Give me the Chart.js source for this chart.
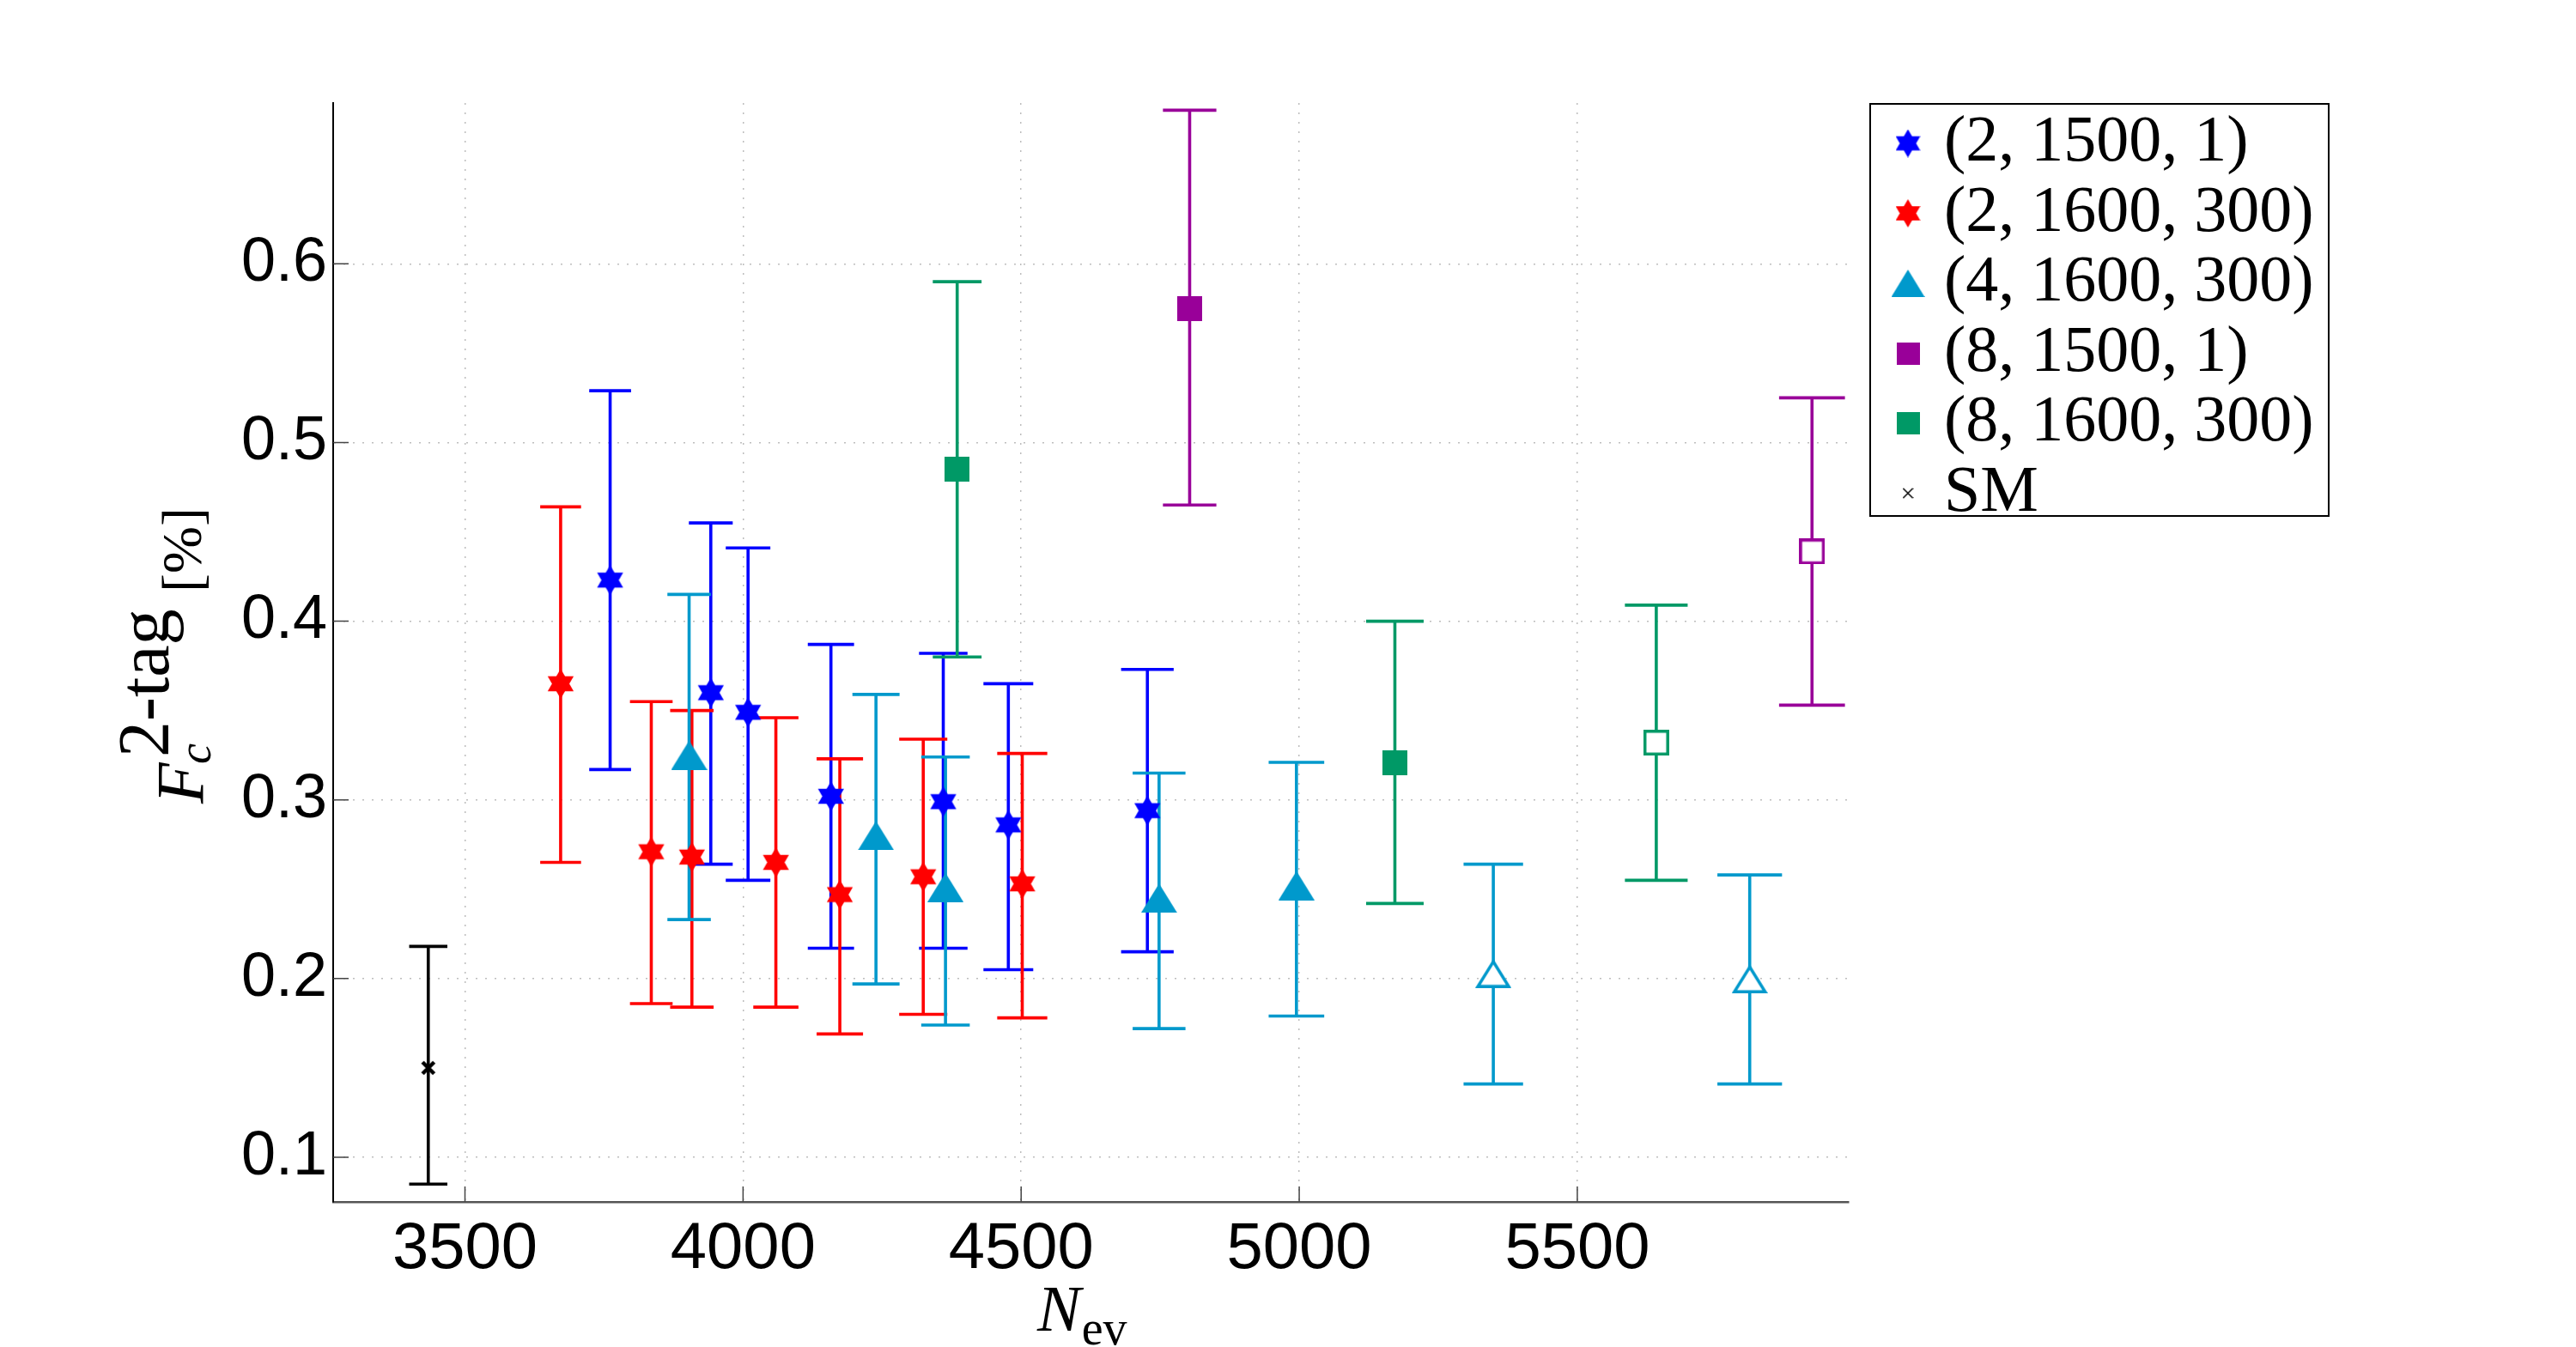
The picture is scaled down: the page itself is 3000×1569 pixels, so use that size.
<!DOCTYPE html>
<html>
<head>
<meta charset="utf-8">
<title>F_c 2-tag vs N_ev</title>
<script src="https://cdn.jsdelivr.net/npm/chart.js@4/dist/chart.umd.min.js"></script>
<style>
  html, body { margin: 0; padding: 0; background: #fff; }
  #wrap { width: 3000px; height: 1569px; }
</style>
</head>
<body>
<div id="wrap"><canvas id="chart" width="3000" height="1569"></canvas></div>
<script>
// ---- data ---------------------------------------------------------------

const xTicks = [3500, 4000, 4500, 5000, 5500];
const yTicks = [0.1, 0.2, 0.3, 0.4, 0.5, 0.6];

// (2, 1500, 1)
const s1X  = [3761, 3942, 4009, 4158, 4360, 4477, 4727];
const s1Y  = [0.423, 0.360, 0.349, 0.302, 0.299, 0.286, 0.294];
const s1Lo = [0.317, 0.264, 0.255, 0.217, 0.217, 0.205, 0.215];
const s1Hi = [0.529, 0.455, 0.441, 0.387, 0.382, 0.365, 0.373];

// (2, 1600, 300)
const s2X  = [3672, 3835, 3908, 4059, 4174, 4324, 4502];
const s2Y  = [0.365, 0.271, 0.268, 0.265, 0.247, 0.257, 0.253];
const s2Lo = [0.265, 0.186, 0.184, 0.184, 0.169, 0.180, 0.178];
const s2Hi = [0.464, 0.355, 0.350, 0.346, 0.323, 0.334, 0.326];

// (4, 1600, 300) filled / open markers
const s3X  = [3903, 4239, 4364, 4748, 4995];
const s3Y  = [0.325, 0.280, 0.251, 0.245, 0.252];
const s3Lo = [0.233, 0.197, 0.174, 0.172, 0.179];
const s3Hi = [0.415, 0.359, 0.324, 0.315, 0.321];
const s3oX  = [5349, 5810];
const s3oY  = [0.203, 0.200];
const s3oLo = [0.141, 0.141];
const s3oHi = [0.264, 0.258];

// (8, 1500, 1)
const s4X  = [4803];
const s4Y  = [0.575];
const s4Lo = [0.465];
const s4Hi = [0.686];
const s4oX  = [5922];
const s4oY  = [0.439];
const s4oLo = [0.353];
const s4oHi = [0.525];

// (8, 1600, 300)
const s5X  = [4385, 5172];
const s5Y  = [0.485, 0.321];
const s5Lo = [0.380, 0.242];
const s5Hi = [0.590, 0.400];
const s5oX  = [5642];
const s5oY  = [0.332];
const s5oLo = [0.255];
const s5oHi = [0.409];

// SM
const smX  = [3434];
const smY  = [0.150];
const smLo = [0.085];
const smHi = [0.218];

// ---- colours ------------------------------------------------------------
const BLUE   = '#0000ff';
const RED    = '#ff0000';
const CYAN   = '#0099cc';
const PURPLE = '#990099';
const GREEN  = '#009966';
const BLACK  = '#000000';

// ---- marker images (canvas point styles) --------------------------------
function makeMarker(type, color, w, h, open) {
  const c = document.createElement('canvas');
  c.width = Math.ceil(w);
  c.height = Math.ceil(h);
  const g = c.getContext('2d');
  const cx = c.width / 2, cy = c.height / 2;
  const lw = 3.5;
  g.fillStyle = open ? '#fff' : color;
  g.strokeStyle = color;
  g.lineWidth = lw;
  if (type === 'hex') {
    // two triangles filled one after the other (a single path leaves a hole)
    const R = h / 2, s = R * Math.sin(Math.PI / 3);
    g.beginPath();
    g.moveTo(cx, cy - R); g.lineTo(cx + s, cy + R / 2); g.lineTo(cx - s, cy + R / 2); g.closePath();
    g.fill();
    g.beginPath();
    g.moveTo(cx, cy + R); g.lineTo(cx + s, cy - R / 2); g.lineTo(cx - s, cy - R / 2); g.closePath();
    g.fill();
  } else if (type === 'tri') {
    const p = open ? lw : 0;
    g.beginPath();
    g.moveTo(cx, p);
    g.lineTo(w - p * 0.9, h - p / 2);
    g.lineTo(p * 0.9, h - p / 2);
    g.closePath();
    g.fill();
    if (open) g.stroke();
  } else if (type === 'sq') {
    g.fillRect(0, 0, w, h);
    if (open) g.strokeRect(lw / 2, lw / 2, w - lw, h - lw);
  } else if (type === 'x') {
    g.lineWidth = w > 14 ? 4.5 : 1.5;
    const d = w / 2 - g.lineWidth / 2;
    g.beginPath();
    g.moveTo(cx - d, cy - d); g.lineTo(cx + d, cy + d);
    g.moveTo(cx + d, cy - d); g.lineTo(cx - d, cy + d);
    g.stroke();
  }
  return c;
}

function pts(xs, ys) { return xs.map((x, i) => ({ x: x, y: ys[i] })); }

function series(label, xs, ys, lo, hi, color, marker, legendMarker) {
  return {
    label: label,
    data: pts(xs, ys),
    lo: lo,
    hi: hi,
    barColor: color,
    pointStyle: marker,
    legendMarker: legendMarker,
    pointRadius: 10,
    showLine: false
  };
}

const datasets = [
  series('(2, 1500, 1)', s1X, s1Y, s1Lo, s1Hi, BLUE,
    makeMarker('hex', BLUE, 32, 35), makeMarker('hex', BLUE, 29, 33)),
  series('(2, 1600, 300)', s2X, s2Y, s2Lo, s2Hi, RED,
    makeMarker('hex', RED, 32, 35), makeMarker('hex', RED, 29, 33)),
  series('(4, 1600, 300)', s3X, s3Y, s3Lo, s3Hi, CYAN,
    makeMarker('tri', CYAN, 42, 34), makeMarker('tri', CYAN, 39, 32)),
  series('', s3oX, s3oY, s3oLo, s3oHi, CYAN,
    makeMarker('tri', CYAN, 42, 34, true), null),
  series('(8, 1500, 1)', s4X, s4Y, s4Lo, s4Hi, PURPLE,
    makeMarker('sq', PURPLE, 29, 29), makeMarker('sq', PURPLE, 27, 26)),
  series('', s4oX, s4oY, s4oLo, s4oHi, PURPLE,
    makeMarker('sq', PURPLE, 30, 30, true), null),
  series('(8, 1600, 300)', s5X, s5Y, s5Lo, s5Hi, GREEN,
    makeMarker('sq', GREEN, 29, 29), makeMarker('sq', GREEN, 27, 26)),
  series('', s5oX, s5oY, s5oLo, s5oHi, GREEN,
    makeMarker('sq', GREEN, 30, 30, true), null),
  series('SM', smX, smY, smLo, smHi, BLACK,
    makeMarker('x', BLACK, 18, 18), makeMarker('x', BLACK, 13, 13))
];

// ---- plugins ------------------------------------------------------------

// vertical error bars, caps are x/100 wide on each side (matlab style tee)
const errorBars = {
  id: 'errorBars',
  beforeDatasetsDraw(chart) {
    const { ctx, scales: { x, y } } = chart;
    chart.data.datasets.forEach(ds => {
      ctx.save();
      ctx.strokeStyle = ds.barColor;
      ctx.lineWidth = 3.6;
      ds.data.forEach((p, i) => {
        const px = x.getPixelForValue(p.x);
        const pl = y.getPixelForValue(ds.lo[i]);
        const ph = y.getPixelForValue(ds.hi[i]);
        const tee = p.x / 100;
        const cl = x.getPixelForValue(p.x - tee);
        const cr = x.getPixelForValue(p.x + tee);
        ctx.beginPath();
        ctx.moveTo(px, pl); ctx.lineTo(px, ph);
        ctx.moveTo(cl, pl); ctx.lineTo(cr, pl);
        ctx.moveTo(cl, ph); ctx.lineTo(cr, ph);
        ctx.stroke();
      });
      ctx.restore();
    });
  }
};

// small tick marks pointing into the plot
const inwardTicks = {
  id: 'inwardTicks',
  afterDraw(chart) {
    const { ctx, chartArea: a, scales: { x, y } } = chart;
    ctx.save();
    ctx.strokeStyle = '#444';
    ctx.lineWidth = 1.5;
    ctx.beginPath();
    x.ticks.forEach(t => {
      const px = x.getPixelForValue(t.value);
      ctx.moveTo(px, a.bottom); ctx.lineTo(px, a.bottom - 18);
    });
    y.ticks.forEach(t => {
      const py = y.getPixelForValue(t.value);
      ctx.moveTo(a.left, py); ctx.lineTo(a.left + 18, py);
    });
    ctx.stroke();
    ctx.restore();
  }
};

// axis titles with sub/superscripts
const axisTitles = {
  id: 'axisTitles',
  afterDraw(chart) {
    const ctx = chart.ctx;
    ctx.save();
    ctx.fillStyle = '#000';
    ctx.textBaseline = 'alphabetic';
    ctx.textAlign = 'left';

    // x: N_ev
    ctx.font = 'italic 76px "Liberation Serif"';
    const nx = 1208;
    ctx.fillText('N', nx, 1550);
    const nw = ctx.measureText('N').width;
    ctx.font = '56px "Liberation Serif"';
    ctx.fillText('ev', nx + nw + 1, 1566);

    // y: F_c^{2-tag} [%]
    ctx.translate(236, 936);
    ctx.rotate(-Math.PI / 2);
    ctx.font = 'italic 78px "Liberation Serif"';
    ctx.fillText('F', 0, 0);
    ctx.font = 'italic 54px "Liberation Serif"';
    ctx.fillText('c', 46, 9);
    ctx.font = '84px "Liberation Serif"';
    ctx.fillText('2-tag', 54, -40);
    ctx.font = '66px "Liberation Serif"';
    ctx.fillText('[%]', 246, -2);
    ctx.restore();
  }
};

// boxed legend to the right of the axes
const boxLegend = {
  id: 'boxLegend',
  afterDraw(chart) {
    const ctx = chart.ctx;
    const bx = 2178, by = 121, bw = 534, bh = 480;
    ctx.save();
    ctx.fillStyle = '#fff';
    ctx.fillRect(bx, by, bw, bh);
    ctx.strokeStyle = '#000';
    ctx.lineWidth = 2;
    ctx.strokeRect(bx, by, bw, bh);
    ctx.font = '76px "Liberation Serif"';
    ctx.fillStyle = '#000';
    ctx.textBaseline = 'alphabetic';
    let base = 187;
    chart.data.datasets.forEach(ds => {
      if (!ds.legendMarker) return;
      const m = ds.legendMarker;
      ctx.drawImage(m, 2222 - m.width / 2, base - 20 - m.height / 2);
      ctx.fillText(ds.label, 2264, base);
      base += 81.5;
    });
    ctx.restore();
  }
};

// ---- chart --------------------------------------------------------------
const gridColor = '#bdbdbd';

new Chart(document.getElementById('chart'), {
  type: 'scatter',
  data: { datasets: datasets },
  options: {
    responsive: false,
    animation: false,
    devicePixelRatio: 1,
    events: [],
    layout: { padding: { left: 0, top: 120, right: 847, bottom: 0 } },
    plugins: {
      legend: { display: false },
      tooltip: { enabled: false }
    },
    scales: {
      x: {
        type: 'linear',
        min: 3263,
        max: 5988,
        afterBuildTicks: s => { s.ticks = xTicks.map(v => ({ value: v })); },
        afterFit: s => { s.height = 169; },
        grid: { color: gridColor, lineWidth: 1.5, drawTicks: false },
        border: { display: true, color: '#555', width: 2.5, dash: [2, 9] },
        ticks: {
          autoSkip: false,
          maxRotation: 0,
          padding: 10,
          color: '#000',
          font: { family: 'Liberation Sans', size: 76 },
          callback: v => String(v)
        }
      },
      y: {
        type: 'linear',
        min: 0.075,
        max: 0.69,
        afterBuildTicks: s => { s.ticks = yTicks.map(v => ({ value: v })); },
        afterFit: s => { s.width = 388; },
        grid: { color: gridColor, lineWidth: 1.5, drawTicks: false },
        border: { display: true, color: '#000', width: 2, dash: [2, 9] },
        ticks: {
          autoSkip: false,
          padding: 7,
          color: '#000',
          font: { family: 'Liberation Sans', size: 72 },
          callback: v => v.toFixed(1)
        }
      }
    }
  },
  plugins: [errorBars, inwardTicks, axisTitles, boxLegend]
});
</script>
</body>
</html>
